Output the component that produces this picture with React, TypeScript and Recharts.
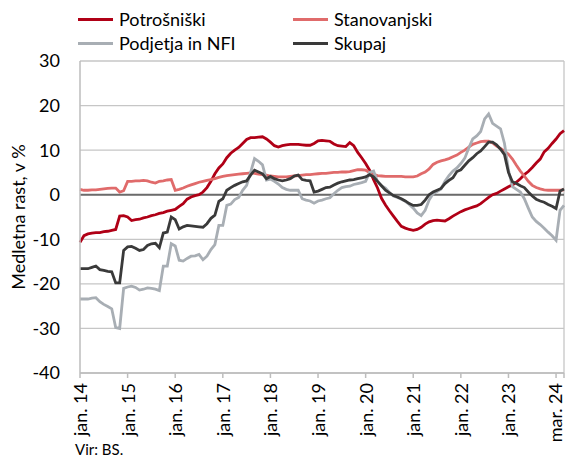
import React from "react";
import { LineChart, Line, XAxis, YAxis, CartesianGrid, ReferenceLine } from "recharts";

const years = ["14", "15", "16", "17", "18", "19", "20", "21", "22", "23", "24"];
const monthNames = ["jan.", "feb.", "mar.", "apr.", "maj", "jun.", "jul.", "avg.", "sep.", "okt.", "nov.", "dec."];

const potrosniski = [
  -10.7, -9.2, -8.8, -8.6, -8.5, -8.5, -8.3, -8.2, -8.0, -7.8, -4.8, -4.7,
  -5.0, -5.8, -5.6, -5.5, -5.2, -5.0, -4.7, -4.5, -4.2, -4.0, -3.7, -3.5,
  -3.3, -2.6, -2.0, -1.0, -0.5, -0.2, 0.0, 0.6, 1.6, 3.0, 4.7, 6.0,
  6.9, 8.3, 9.3, 10.0, 10.6, 11.5, 12.4, 12.8, 12.8, 12.9, 13.0, 12.5,
  11.8, 11.0, 10.7, 11.0, 11.2, 11.3, 11.3, 11.3, 11.2, 11.1, 11.1, 11.5,
  12.1, 12.2, 12.1, 12.0, 11.4, 11.0, 10.9, 10.8, 11.7, 11.0, 9.5, 8.3,
  7.0, 5.5, 3.4, 1.5, -0.8, -2.3, -3.6, -4.8, -6.0, -7.1, -7.5, -7.8,
  -8.0, -7.8, -7.3, -6.6, -6.1, -5.8, -5.7, -5.8, -5.9, -5.4, -4.8, -4.3,
  -3.8, -3.4, -3.1, -2.8, -2.5, -2.0, -1.3, -0.6, 0.0, 0.3, 0.8, 1.3,
  1.8, 2.2, 2.8, 3.6, 4.5, 5.2, 6.1, 7.1, 8.0, 9.6, 10.4, 11.5,
  12.5, 13.7, 14.4,
];

const stanovanjski = [
  1.2, 1.0, 1.0, 1.1, 1.1, 1.2, 1.3, 1.4, 1.5, 1.5, 0.6, 0.9,
  3.0, 3.0, 3.1, 3.1, 3.2, 3.1, 2.8, 2.6, 3.0, 3.1, 3.3, 3.4,
  1.0, 1.2, 1.5, 1.9, 2.2, 2.5, 2.8, 3.0, 3.2, 3.4, 3.6, 3.9,
  4.1, 4.3, 4.4, 4.5, 4.6, 4.7, 4.8, 4.9, 4.8, 4.6, 4.5, 4.4,
  4.2, 4.1, 4.0, 4.0, 4.0, 4.1, 4.2, 4.3, 4.4, 4.5, 4.5, 4.6,
  4.7, 4.8, 4.8, 4.9, 5.0, 5.0, 5.1, 5.1, 5.2, 5.4, 5.6, 5.6,
  5.5, 5.0, 4.6, 4.3, 4.2, 4.1, 4.1, 4.1, 4.1, 4.1, 4.0, 4.0,
  4.0, 4.2, 4.7, 5.1, 5.8, 6.8, 7.3, 7.6, 7.8, 8.1, 8.5, 8.9,
  9.5, 10.0, 10.7, 11.3, 11.6, 11.9, 12.0, 12.0, 11.6, 10.9, 10.4, 9.8,
  9.1, 8.0, 6.6, 5.3, 4.2, 3.0, 2.1, 1.6, 1.3, 1.1, 1.0, 1.0,
  1.0, 1.0, 1.1,
];

const podjetja = [
  -23.4, -23.4, -23.4, -23.2, -23.1, -24.0, -24.6, -25.1, -25.6, -29.8, -30.0, -21.0,
  -20.7, -20.5, -20.8, -21.4, -21.2, -20.9, -21.0, -21.2, -21.5, -16.0, -16.0, -11.0,
  -11.5, -14.7, -14.9, -14.3, -13.8, -13.7, -13.4, -14.6, -13.8, -12.3, -11.2, -6.9,
  -6.9, -2.4, -2.1, -1.1, -0.6, 1.0, 2.1, 5.0, 8.1, 7.5, 6.7, 3.3,
  3.5, 3.0, 2.4, 1.6, 1.2, 1.0, 1.0, 1.0, -0.9, -1.2, -1.4, -1.9,
  -1.4, -1.2, -0.9, -0.7, 0.2, 1.0, 1.6, 1.8, 1.9, 2.3, 2.5, 2.7,
  3.0, 5.0, 5.3, 3.0, 2.0, 1.5, 0.5, -0.3, -0.6, -1.0, -1.5, -2.2,
  -3.0, -4.1, -4.7, -3.5, -1.2, 0.2, 0.7, 1.3, 3.0, 4.3, 5.3, 6.0,
  7.0, 8.2, 10.5, 12.5, 13.2, 14.2, 17.0, 18.1, 16.0, 15.4, 14.8, 11.5,
  5.5, 1.8, 1.2, 0.6, -0.9, -3.0, -5.0, -6.0, -6.7, -7.5, -8.4, -9.2,
  -10.2, -3.5, -2.4,
];

const skupaj = [
  -16.6, -16.6, -16.6, -16.3, -16.0, -16.8, -17.0, -17.2, -17.3, -19.8, -19.8, -12.5,
  -11.7, -11.6, -12.0, -12.5, -12.3, -11.4, -11.0, -10.9, -11.9, -8.6, -8.4, -5.0,
  -5.6, -7.7, -7.2, -6.9, -7.0, -7.1, -7.2, -7.3, -6.5, -5.3, -4.6, -1.5,
  -0.9, 1.0, 1.6, 2.1, 2.5, 2.9, 3.1, 4.4, 5.5, 5.1, 4.7, 3.6,
  4.1, 3.6, 3.3, 3.1, 3.3, 3.6, 4.2, 4.4, 3.4, 3.2, 3.1, 0.6,
  0.8, 1.2, 1.6, 1.7, 2.2, 2.6, 2.9, 3.1, 3.3, 3.4, 3.6, 3.8,
  4.0, 4.5, 4.0, 3.0, 2.0, 1.0, 0.4, -0.2, -0.5, -0.9, -1.4, -2.0,
  -2.4, -2.4, -2.2, -1.2, 0.0, 0.6, 1.0, 1.4, 2.5, 3.2, 3.8, 5.2,
  5.6, 6.6, 7.6, 8.3, 9.2, 9.8, 10.8, 11.8, 11.8, 11.2, 10.2, 9.0,
  5.0, 2.9, 2.5, 2.0, 1.6, 0.6, -0.3, -1.0, -1.4, -1.7, -2.2, -2.6,
  -3.1, 0.8, 1.3,
];

const categories: string[] = [];
years.forEach((y) => monthNames.forEach((m) => categories.push(`${m} ${y}`)));
const nPoints = potrosniski.length;

const tickCategories = [
  "jan. 14", "jan. 15", "jan. 16", "jan. 17", "jan. 18", "jan. 19",
  "jan. 20", "jan. 21", "jan. 22", "jan. 23", "jan. 24", "mar. 24",
];
const hiddenTickLabels = ["jan. 24"];
const yTicks = [-40, -30, -20, -10, 0, 10, 20, 30];

const data = potrosniski.map((v, i) => ({
  t: i,
  month: categories[i],
  potrosniski: v,
  stanovanjski: stanovanjski[i],
  podjetja: podjetja[i],
  skupaj: skupaj[i],
}));

const xTicks = tickCategories.map((c) => categories.indexOf(c));

const FONT = "Lato, 'Noto Sans', sans-serif";

const series = [
  { key: "potrosniski", name: "Potrošniški", color: "#B00016", width: 2.8 },
  { key: "stanovanjski", name: "Stanovanjski", color: "#E06B6B", width: 2.8 },
  { key: "podjetja", name: "Podjetja in NFI", color: "#A8AEB4", width: 2.8 },
  { key: "skupaj", name: "Skupaj", color: "#3A3A3A", width: 2.8 },
];

const XTick = (props: any) => {
  const { x, y, payload } = props;
  const label = categories[payload.value];
  if (!label || hiddenTickLabels.includes(label)) return null;
  const lx = Math.min(x, 555);
  return (
    <text
      transform={`translate(${lx},${y + 3}) rotate(-90)`}
      textAnchor="end"
      dominantBaseline="central"
      fontFamily={FONT}
      fontSize={18}
      fill="#000"
    >
      {label}
    </text>
  );
};

const LegendBox = () => {
  const cols = [
    [series[0], series[2]],
    [series[1], series[3]],
  ];
  return (
    <div
      style={{
        position: "absolute",
        left: 78,
        top: 7,
        display: "flex",
        fontFamily: FONT,
        fontSize: 18,
        color: "#000",
        lineHeight: "24px",
      }}
    >
      {cols.map((col, ci) => (
        <div key={ci} style={{ width: ci === 0 ? 215 : 200 }}>
          {col.map((s) => (
            <div key={s.key} style={{ display: "flex", alignItems: "center", height: 24 }}>
              <div style={{ width: 35, height: 3, background: s.color, marginRight: 6 }} />
              <span style={{ whiteSpace: "nowrap" }}>{s.name}</span>
            </div>
          ))}
        </div>
      ))}
    </div>
  );
};

export default function App() {
  return (
    <div style={{ position: "absolute", left: 0, top: 0, width: 567, height: 458, background: "#fff" }}>
      <LineChart
        width={567}
        height={458}
        data={data}
        margin={{ top: 61, right: 3, bottom: 0, left: 0 }}
      >
        <CartesianGrid vertical={false} stroke="#C6C6C6" strokeWidth={1.3} />
        <XAxis
          dataKey="t"
          type="number"
          domain={[0, nPoints - 1]}
          ticks={xTicks}
          interval={0}
          height={85}
          axisLine={{ stroke: "#BDBDBD", strokeWidth: 1.5 }}
          tickLine={{ stroke: "#BDBDBD", strokeWidth: 1.5 }}
          tickSize={5}
          tick={<XTick />}
        />
        <YAxis
          domain={[-40, 30]}
          ticks={yTicks}
          interval={0}
          width={80}
          axisLine={{ stroke: "#BDBDBD", strokeWidth: 1.5 }}
          tickLine={false}
          tickMargin={14}
          tick={{ fontFamily: FONT, fontSize: 18, fill: "#000" }}
          label={{
            value: "Medletna rast, v %",
            angle: -90,
            position: "insideLeft",
            offset: 19,
            style: { fontFamily: FONT, fontSize: 18, fill: "#000", textAnchor: "middle" },
          }}
        />
        <ReferenceLine x={nPoints - 1} stroke="#C6C6C6" strokeWidth={1.3} />
        <ReferenceLine y={0} stroke="#6B6B6B" strokeWidth={2} />
        {series.map((s) => (
          <Line
            key={s.key}
            type="linear"
            dataKey={s.key}
            name={s.name}
            stroke={s.color}
            strokeWidth={s.width}
            dot={false}
            activeDot={false}
            isAnimationActive={false}
          />
        ))}
      </LineChart>
      <LegendBox />
      <div
        style={{
          position: "absolute",
          left: 75,
          top: 440,
          fontFamily: FONT,
          fontSize: 15,
          color: "#000",
          whiteSpace: "nowrap",
        }}
      >
        Vir: BS.
      </div>
    </div>
  );
}
